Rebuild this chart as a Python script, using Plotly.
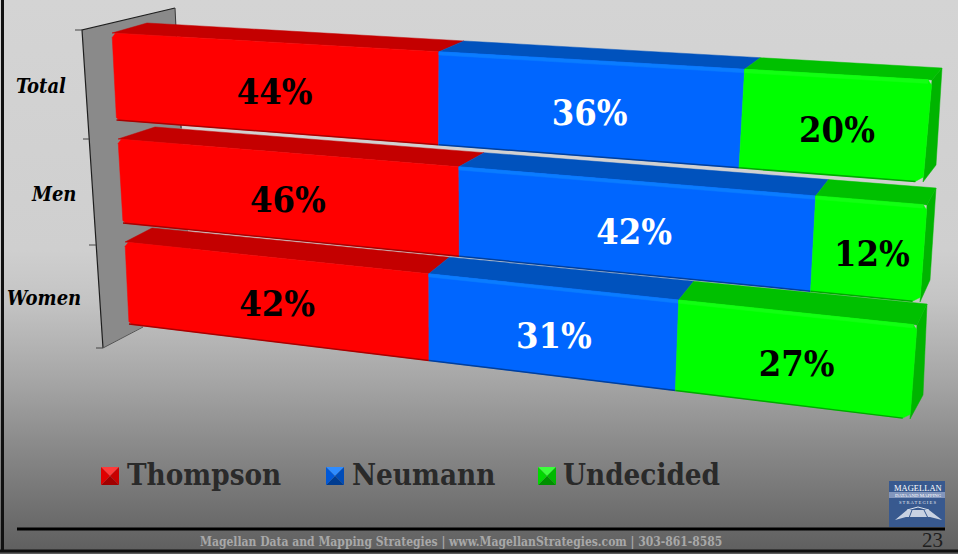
import base64
import numpy as np
import plotly.graph_objects as go

# ---------- data ----------
categories = ["Total", "Men", "Women"]
series_names = ["Thompson", "Neumann", "Undecided"]
thompson = [44, 46, 42]
neumann = [36, 42, 31]
undecided = [20, 12, 27]
series_values = [thompson, neumann, undecided]

# ---------- styles ----------
W, H = 958, 554
SERIF = "DejaVu Serif Condensed"
PLAIN = "Liberation Serif"
FRONT = ["#ff0000", "#0066ff", "#00ff00"]
TOP = ["#c40000", "#0052bd", "#00c000"]
EDGE = ["#a80000", "#003f9c", "#00a800"]
SHINE = ["#ff0000", "#0a7cff", "#12ff12"]
SIDE = "#00b400"
LABEL_COL = ["#000000", "#ffffff", "#000000"]
BG_STOPS = [(0, "#d4d4d4"), (250, "#cfcfcf"), (300, "#c4c4c4"), (380, "#a6a6a6"),
            (440, "#8c8c8c"), (554, "#5e5e5e")]

# Perspective of the 3-D chart: screen corners of each row's box
FRONT_QUAD = {"Total": [(112, 33), (932, 80), (923, 182), (116.5, 120)],
              "Men": [(118, 139), (927, 205), (920, 302), (123, 223)],
              "Women": [(125, 242), (917, 325), (910, 419), (129, 324)]}
BACK_TOP = {"Total": [(147, 23), (942, 68)],
            "Men": [(155, 127), (936, 188)],
            "Women": [(152, 228), (927, 304)]}
BACK_BOTTOM_RIGHT = {"Total": (936, 165), "Men": (930, 280), "Women": (923, 395)}
CAT_LABEL_POS = {"Total": (41, 86), "Men": (53, 194), "Women": (44, 298)}


def homography(quad):
    A, b = [], []
    for (u, v), (x, y) in zip([(0, 0), (1, 0), (1, 1), (0, 1)], quad):
        A.append([u, v, 1, 0, 0, 0, -u * x, -v * x]); b.append(x)
        A.append([0, 0, 0, u, v, 1, -u * y, -v * y]); b.append(y)
    h = np.linalg.solve(np.array(A, float), np.array(b, float))
    M = np.append(h, 1).reshape(3, 3)

    def project(u, v):
        p = M @ np.array([u, v, 1.0])
        return p[0] / p[2], p[1] / p[2]
    return project


def polygon(project, uv):
    pts = [project(u, v) for u, v in uv]
    return [p[0] for p in pts] + [pts[0][0]], [p[1] for p in pts] + [pts[0][1]]


fig = go.Figure()


def poly_trace(xs, ys, fill, name):
    fig.add_trace(go.Scatter(x=xs, y=ys, mode="lines", fill="toself", fillcolor=fill,
                             line=dict(width=0.5, color=fill), name=name,
                             showlegend=False, hoverinfo="name"))


text_x, text_y, text_s, text_c = [], [], [], []

# rows are painted back to front: Women, Men, Total
for cat in reversed(categories):
    i = categories.index(cat)
    fq = FRONT_QUAD[cat]
    bt = BACK_TOP[cat]
    front = homography(fq)

    def back_point(u):
        # back edge of the top face, in step with the front edge
        fx, _ = front(u, 0)
        f = (fx - fq[0][0]) / (fq[1][0] - fq[0][0])
        return bt[0][0] + f * (bt[1][0] - bt[0][0]), bt[0][1] + f * (bt[1][1] - bt[0][1])

    # right end of the last segment
    xs = [fq[1][0], bt[1][0], BACK_BOTTOM_RIGHT[cat][0], fq[2][0], fq[1][0]]
    ys = [fq[1][1], bt[1][1], BACK_BOTTOM_RIGHT[cat][1], fq[2][1], fq[1][1]]
    poly_trace(xs, ys, SIDE, series_names[-1])
    start = 0
    for s, vals in enumerate(series_values):
        u0, u1 = start / 100, (start + vals[i]) / 100
        start += vals[i]
        mid = (u0 + u1) / 2
        # top face
        a, b_, c_, d = front(u0, 0), front(u1, 0), back_point(u1), back_point(u0)
        poly_trace([a[0], b_[0], c_[0], d[0], a[0]], [a[1], b_[1], c_[1], d[1], a[1]],
                   TOP[s], series_names[s])
        # front face, with small rounded corners at the bar's ends
        if s == 0:
            uv = [(u0 + 0.005, 0), (u1, 0), (u1, 1), (u0 + 0.004, 1), (u0, 0.97), (u0, 0.05)]
        elif s == 2:
            uv = [(u0, 0), (u1 - 0.004, 0), (u1, 0.05), (u1, 0.95), (u1 - 0.008, 1), (u0, 1)]
        else:
            uv = [(u0, 0), (u1, 0), (u1, 1), (u0, 1)]
        fx, fy = polygon(front, uv)
        poly_trace(fx, fy, FRONT[s], series_names[s])
        if s > 0:
            sx, sy = polygon(front, [(u0, 0), (u1 - (0.004 if s == 2 else 0), 0),
                                     (u1 - (0.004 if s == 2 else 0), 0.035), (u0, 0.035)])
            poly_trace(sx, sy, SHINE[s], series_names[s])
        # dark lower edge
        ex0, ey0 = front(u0, 1)
        ex1, ey1 = front(u1 - (0.008 if s == 2 else 0), 1)
        fig.add_trace(go.Scatter(x=[ex0, ex1], y=[ey0, ey1], mode="lines",
                                 line=dict(color=EDGE[s], width=1.5),
                                 showlegend=False, hoverinfo="skip"))
        px, py = front(mid + 0.005, 0.58)
        text_x.append(px); text_y.append(py)
        text_s.append(f"{vals[i]}%"); text_c.append(LABEL_COL[s])

fig.add_trace(go.Scatter(x=text_x, y=text_y, text=text_s, mode="text",
                         textposition="middle center", showlegend=False, hoverinfo="skip",
                         textfont=dict(family=SERIF, size=36, weight=700, color=text_c)))

# ---------- decorations ----------
shapes = []


def path_shape(pts, fill=None, line=None, width=0, layer="above"):
    d = "M " + " L ".join(f"{x},{y}" for x, y in pts) + (" Z" if fill else "")
    shapes.append(dict(type="path", path=d, xref="x", yref="y", layer=layer,
                       fillcolor=fill or "rgba(0,0,0,0)",
                       line=dict(color=line or "rgba(0,0,0,0)", width=width)))


# chart wall and its axis
path_shape([(82, 30), (175, 8), (192, 300), (103, 348)], fill="#8a8a8a", layer="between")
path_shape([(175, 8), (82, 30), (103, 348)], line="#1e1e1e", width=1.2, layer="between")
path_shape([(103, 348), (143, 327)], line="#555555", width=1, layer="between")
path_shape([(175, 8), (181, 128)], line="#3a3a3a", width=1, layer="between")
for pts in ([(75, 30), (82, 30)], [(83, 139), (89, 139)], [(89, 245), (96, 245)], [(96, 348), (103, 348)]):
    path_shape(pts, line="#444444", width=1, layer="between")

# frame and footer rule
path_shape([(2.5, 0), (2.5, 551)], line="#111111", width=3)
path_shape([(0, 551), (958, 551)], line="#111111", width=3)
path_shape([(17, 529), (945, 529)], line="#000000", width=3)

# legend swatches
SW_X = [101, 326, 538]
SW_Y, SW = 467, 18
SW_T = ["#ff3a3a", "#2f8cff", "#3cff3c"]
SW_L = ["#e00000", "#0058d8", "#00d800"]
SW_R = ["#c80000", "#004cb8", "#00b800"]
SW_B = ["#a00000", "#003c90", "#009000"]
for s, x0 in enumerate(SW_X):
    y0 = SW_Y
    c = (x0 + SW / 2, y0 + SW / 2)
    tl, tr, br, bl = (x0, y0), (x0 + SW, y0), (x0 + SW, y0 + SW), (x0, y0 + SW)
    path_shape([tl, tr, c], fill=SW_T[s])
    path_shape([tr, br, c], fill=SW_R[s])
    path_shape([br, bl, c], fill=SW_B[s])
    path_shape([bl, tl, c], fill=SW_L[s])

# logo
LX0, LX1, LY0, LY1 = 889, 945, 481, 527
shapes.append(dict(type="rect", x0=LX0, x1=LX1, y0=LY0, y1=LY1, xref="x", yref="y",
                   fillcolor="#38598f", line=dict(width=0)))
shapes.append(dict(type="rect", x0=LX0, x1=LX1, y0=492, y1=498, xref="x", yref="y",
                   fillcolor="#8296bd", line=dict(width=0)))
path_shape([(895, 520), (907, 510), (929, 510), (942, 520), (930, 517), (906, 517)], fill="#c9d2e2")
path_shape([(907, 510), (918, 507), (929, 510)], line="#dfe5ef", width=1)
path_shape([(912, 510), (909, 518)], line="#38598f", width=1)
path_shape([(924, 510), (928, 518)], line="#38598f", width=1)

annotations = []


def note(x, y, text, size, color, weight=400, style="normal", anchor="center", family=SERIF):
    annotations.append(dict(x=x, y=y, xref="x", yref="y", text=text, showarrow=False,
                            xanchor=anchor, yanchor="middle",
                            font=dict(family=family, size=size, color=color, weight=weight, style=style)))


for cat in categories:
    note(*CAT_LABEL_POS[cat], cat, 20, "#000000", weight=700, style="italic")

LEGEND_X = [125, 350, 561]
for name, x in zip(series_names, LEGEND_X):
    note(x, 474, name, 29.3, "#2a2a2a", weight=700, anchor="left")

note(460.5, 541.5, "Magellan Data and Mapping Strategies | www.MagellanStrategies.com | 303-861-8585",
     12, "#a8a8a8", weight=700)
note(932, 539.5, "23", 21, "#1e1e1e", family=PLAIN)
note(918, 488, "MAGELLAN", 8.5, "#ffffff", family=PLAIN)
note(918, 495, "DATA AND MAPPING", 4.8, "#ffffff", family=PLAIN)
note(918, 502, "S T R A T E G I E S", 4.6, "#e6ebf4", family=PLAIN)

# background gradient
stops = "".join(f'<stop offset="{y / H:.4f}" stop-color="{c}"/>' for y, c in BG_STOPS)
svg = (f'<svg xmlns="http://www.w3.org/2000/svg" width="{W}" height="{H}">'
       f'<defs><linearGradient id="g" x1="0" y1="0" x2="0" y2="1">{stops}</linearGradient></defs>'
       f'<rect width="{W}" height="{H}" fill="url(#g)"/></svg>')
bg_uri = "data:image/svg+xml;base64," + base64.b64encode(svg.encode()).decode()

fig.update_layout(
    width=W, height=H, margin=dict(l=0, r=0, t=0, b=0),
    paper_bgcolor="#c0c0c0", plot_bgcolor="rgba(0,0,0,0)",
    showlegend=False, hovermode="closest",
    xaxis=dict(range=[0, W], visible=False, fixedrange=True),
    yaxis=dict(range=[H, 0], visible=False, fixedrange=True),
    shapes=shapes, annotations=annotations,
    images=[dict(source=bg_uri, xref="x", yref="y", x=0, y=0, sizex=W, sizey=H,
                 sizing="stretch", layer="below", xanchor="left", yanchor="top")],
)

fig.write_html("out.html", config=dict(displayModeBar=False),
               post_script="document.body.style.margin='0';document.body.style.overflow='hidden';")
